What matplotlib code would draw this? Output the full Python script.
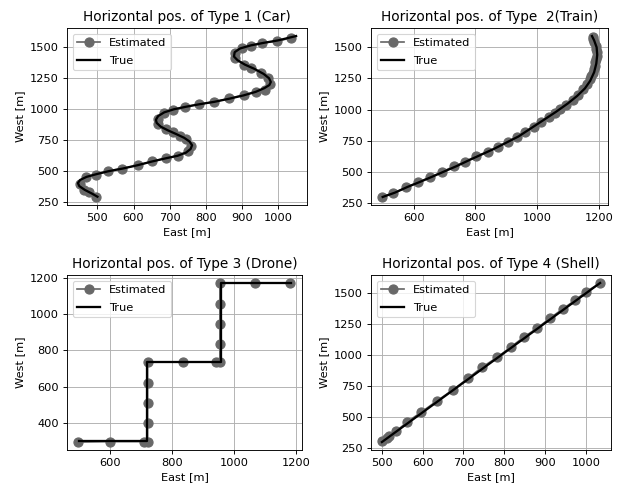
import matplotlib
matplotlib.use('Agg')
import matplotlib.pyplot as plt

# ── Data ────────────────────────────────────────────────────────────────────
# Type 1 (Car)
car_est_e = [495, 478, 463, 451, 469, 495, 529, 568, 611, 651, 689, 723, 751, 760,
             744, 728, 710, 691, 668, 668, 685, 710, 742, 781, 823, 864, 905, 938,
             965, 977, 971, 952, 925, 906, 882, 881, 899, 925, 957, 998, 1037]
car_est_n = [293, 334, 353, 394, 457, 470, 503, 522, 549, 579, 606, 625, 666, 706,
             761, 788, 815, 842, 883, 924, 973, 992, 1019, 1041, 1060, 1087, 1114, 1141,
             1155, 1202, 1250, 1296, 1331, 1358, 1413, 1454, 1495, 1508, 1535, 1548, 1576]
car_true_e = [500, 485, 465, 450, 446, 452, 470, 495, 530, 570, 610, 650, 690, 722,
              745, 758, 762, 755, 740, 718, 695, 675, 664, 662, 668, 685, 712, 745,
              782, 824, 865, 905, 938, 962, 976, 980, 975, 960, 935, 908, 888, 878,
              880, 895, 925, 960, 1000, 1050]
car_true_n = [295, 320, 350, 380, 405, 430, 455, 475, 500, 522, 548, 578, 605, 625,
              650, 680, 710, 740, 770, 800, 830, 860, 890, 915, 945, 975, 1000, 1020,
              1040, 1060, 1085, 1112, 1140, 1170, 1195, 1220, 1250, 1285, 1325, 1360, 1395, 1425,
              1460, 1490, 1515, 1535, 1555, 1590]

# Type 2 (Train)
train_est_e = [497, 533, 576, 615, 654, 693, 730, 768, 803, 841, 874, 906, 935, 962,
               990, 1014, 1039, 1057, 1076, 1095, 1117, 1133, 1149, 1162, 1171, 1176,
               1180, 1184, 1187, 1189, 1191, 1193, 1193, 1192, 1190, 1186, 1182, 1180]
train_est_n = [301, 328, 377, 418, 458, 502, 545, 583, 629, 661, 702, 742, 783, 824,
               864, 897, 940, 972, 1005, 1040, 1081, 1121, 1162, 1202, 1243, 1270,
               1297, 1325, 1351, 1378, 1405, 1432, 1459, 1485, 1514, 1540, 1565, 1585]
train_true_e = [500, 540, 580, 620, 660, 700, 740, 780, 820, 860, 900, 940, 980, 1020,
                1060, 1100, 1130, 1155, 1172, 1185, 1192, 1195, 1193, 1185, 1178]
train_true_n = [300, 335, 380, 420, 462, 505, 548, 595, 640, 685, 735, 785, 850, 915,
                980, 1050, 1110, 1170, 1230, 1300, 1370, 1440, 1500, 1555, 1590]

# Type 3 (Drone)
drone_est_e = [497, 600, 711, 722, 722, 722, 722, 722, 835, 944, 955, 955, 955, 955, 955, 1068, 1180]
drone_est_n = [295, 298, 298, 298, 400, 511, 622, 735, 735, 735, 735, 836, 945, 1056, 1169, 1169, 1169]
drone_true_e = [500, 720, 720, 958, 958, 1185]
drone_true_n = [300, 300, 735, 735, 1170, 1170]

# Type 4 (Shell)
shell_est_e = [501, 512, 517, 535, 562, 597, 635, 674, 711, 745, 783, 816, 848, 881,
               913, 945, 974, 1001, 1034]
shell_est_n = [302, 329, 342, 383, 457, 538, 628, 717, 810, 899, 981, 1063, 1144, 1217,
               1299, 1375, 1443, 1511, 1579]
shell_true_e = [500, 1035]
shell_true_n = [295, 1582]

titles = ["Horizontal pos. of Type 1 (Car)", "Horizontal pos. of Type  2(Train)",
          "Horizontal pos. of Type 3 (Drone)", "Horizontal pos. of Type 4 (Shell)"]
xticks = [[500, 600, 700, 800, 900, 1000], [600, 800, 1000, 1200],
          [600, 800, 1000, 1200], [500, 600, 700, 800, 900, 1000]]
yticks = [[250, 500, 750, 1000, 1250, 1500], [250, 500, 750, 1000, 1250, 1500],
          [400, 600, 800, 1000, 1200], [250, 500, 750, 1000, 1250, 1500]]

series = [(car_est_e, car_est_n, car_true_e, car_true_n),
          (train_est_e, train_est_n, train_true_e, train_true_n),
          (drone_est_e, drone_est_n, drone_true_e, drone_true_n),
          (shell_est_e, shell_est_n, shell_true_e, shell_true_n)]

# ── Layout (pixel boxes converted to figure fractions) ──────────────────────
W, H = 618, 486
boxes = [(67, 28, 307, 205), (371, 28, 608, 205),
         (67, 275, 302, 450), (371, 275, 611, 450)]

fig = plt.figure(figsize=(W / 82, H / 82), dpi=82)

for i, (ee, en, te, tn) in enumerate(series):
    x0, y0, x1, y1 = boxes[i]
    ax = fig.add_axes([x0 / W, 1 - y1 / H, (x1 - x0) / W, (y1 - y0) / H])
    ax.plot(ee, en, '-o', color='#686868', lw=1.5, ms=8, label='Estimated')
    ax.plot(te, tn, '-', color='black', lw=2.0, label='True')
    ax.set_xticks(xticks[i])
    ax.set_yticks(yticks[i])
    ax.set_title(titles[i])
    ax.set_xlabel("East [m]")
    ax.set_ylabel("West [m]")
    ax.grid(True)
    ax.legend(loc='upper left', labelspacing=0.65)

fig.savefig("out.png", dpi=82)
